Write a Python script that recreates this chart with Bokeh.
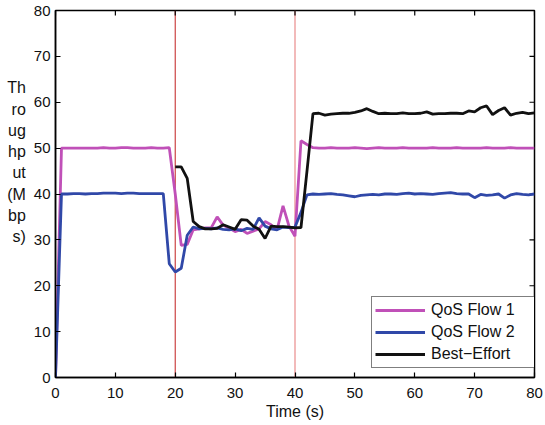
import math
from bokeh.plotting import figure
from bokeh.models import Span, Legend, LegendItem, FixedTicker, Range1d
from bokeh.embed import file_html
from bokeh.resources import INLINE

# ---------------- data ----------------
time_s = list(range(0, 81))
qos_flow_1 = ([0.0] +
    [50.0, 50.0, 50.0, 50.0, 50.0, 50.0, 50.0, 50.1, 50.0, 50.0, 50.1, 50.1, 50.0, 50.0, 50.0, 50.1, 50.0, 50.0] +
    [50.1, 40.0, 28.8, 29.0, 32.2, 32.4, 32.6, 32.6, 35.0, 33.2, 32.6, 31.8, 32.3, 31.4, 31.9, 32.4, 34.0, 33.3,
     32.2, 37.4, 33.0, 30.8, 51.6, 50.8] +
    [50.1, 50.0, 50.0, 50.1, 50.0, 50.0, 50.0, 50.1, 50.0, 49.9, 50.0, 50.1, 50.0, 50.0, 50.0, 50.1, 50.0, 50.0,
     50.0, 50.0, 50.1, 50.0, 50.0, 50.0, 50.1, 50.0, 50.0, 50.0, 50.0, 50.1, 50.0, 50.0, 50.0, 50.1, 50.0, 50.0,
     50.0, 50.0])
qos_flow_2 = ([0.0] +
    [40.0, 40.0, 40.1, 40.1, 40.0, 40.1, 40.1, 40.2, 40.2, 40.2, 40.1, 40.2, 40.2, 40.1, 40.1, 40.1, 40.1, 40.1] +
    [24.8, 23.0, 23.8, 31.0, 32.8, 32.4, 32.5, 32.4, 32.6, 32.3, 32.2, 32.4, 32.0, 32.5, 32.3, 34.8, 33.0, 32.4,
     32.2, 32.8, 32.7, 32.8, 36.0, 39.8] +
    [40.0, 39.9, 40.0, 40.1, 39.9, 39.8, 39.6, 39.4, 39.7, 39.8, 39.9, 39.8, 40.0, 40.0, 39.9, 40.1, 40.2, 40.0,
     40.1, 40.0, 39.9, 40.1, 40.2, 40.3, 40.1, 40.0, 40.0, 39.2, 39.9, 39.7, 39.8, 40.0, 39.1, 39.8, 40.1, 39.9,
     39.8, 40.0])
be_time_s = list(range(20, 81))
best_effort = ([45.9, 45.9, 43.4, 34.0, 32.9, 32.4, 32.4, 32.5, 33.3, 32.8, 32.3, 34.4, 34.3, 33.0, 32.3, 30.3,
                33.0, 32.9, 32.9, 32.8, 32.6, 32.7, 45.0] +
               [57.5, 57.6, 57.2, 57.4, 57.5, 57.6, 57.6, 57.8, 58.1, 58.6, 58.0, 57.5, 57.6, 57.5, 57.5, 57.7,
                57.5, 57.5, 57.6, 57.9, 57.4, 57.5, 57.5, 57.6, 57.6, 57.5, 58.1, 57.9, 58.8, 59.2, 57.3, 58.2,
                58.8, 57.2, 57.6, 57.8, 57.5, 57.7])
event_times = [20, 40]
event_colors = ["#cc4444", "#ea8c8c"]
x_ticks = [0, 10, 20, 30, 40, 50, 60, 70, 80]
y_ticks = [0, 10, 20, 30, 40, 50, 60, 70, 80]
y_label_chunks = ["Th", "ro", "ug", "hp", "ut", "(M", "bp", "s)"]
series_names = ["QoS Flow 1", "QoS Flow 2", "Best\u2212Effort"]
series_colors = ["#c050b8", "#3048a8", "#111111"]

assert len(qos_flow_1) == 81 and len(qos_flow_2) == 81 and len(best_effort) == 61

FONT = "Liberation Sans"

p = figure(width=545, height=425, output_backend="svg", toolbar_location=None,
           x_range=Range1d(0, 80), y_range=Range1d(0, 80),
           min_border_left=55, min_border_right=11, min_border_top=10, min_border_bottom=48)
p.background_fill_color = "white"
p.border_fill_color = "white"
p.grid.visible = False
p.outline_line_color = "black"
p.outline_line_width = 1.5


def style_axis(ax, ticks):
    ax.ticker = FixedTicker(ticks=ticks)
    ax.minor_tick_line_color = None
    ax.major_tick_in = 5
    ax.major_tick_out = 0
    ax.major_tick_line_width = 1.2
    ax.axis_line_width = 1.5
    ax.axis_line_color = "black"
    ax.major_tick_line_color = "black"
    ax.major_label_text_font = FONT
    ax.major_label_text_color = "#111111"
    ax.major_label_text_font_size = "15px"


style_axis(p.xaxis[0], x_ticks)
style_axis(p.yaxis[0], y_ticks)
p.xaxis.major_label_standoff = 10
p.yaxis.major_label_standoff = 5
p.xaxis.axis_label = "Time (s)"
p.xaxis.axis_label_text_font = FONT
p.xaxis.axis_label_text_font_size = "16px"
p.xaxis.axis_label_text_font_style = "normal"
p.xaxis.axis_label_text_color = "#111111"
p.xaxis.axis_label_standoff = 2

# y-axis label, wrapped two characters per line as in the original figure
p.yaxis.axis_label = "\n".join(y_label_chunks + [" ", " ", " "])
p.yaxis.axis_label_orientation = "horizontal"
p.yaxis.axis_label_text_font = FONT
p.yaxis.axis_label_text_font_size = "16px"
p.yaxis.axis_label_text_font_style = "normal"
p.yaxis.axis_label_text_color = "#111111"
p.yaxis.axis_label_text_line_height = 1.25
p.yaxis.axis_label_text_align = "left"
p.yaxis.axis_label_standoff = 5

# inward ticks on the top and right edges of the box
p.scatter(x_ticks, [p.y_range.end] * len(x_ticks), marker="dash", size=10, angle=math.pi / 2,
          line_color="black", line_width=1.2)
p.scatter([p.x_range.end] * len(y_ticks), y_ticks, marker="dash", size=10,
          line_color="black", line_width=1.2)

for t, c in zip(event_times, event_colors):
    p.add_layout(Span(location=t, dimension="height", line_color=c, line_width=1.2, level="underlay"))

r1 = p.line(time_s, qos_flow_1, line_color=series_colors[0], line_width=2.8)
r2 = p.line(time_s, qos_flow_2, line_color=series_colors[1], line_width=2.8)
r3 = p.line(be_time_s, best_effort, line_color=series_colors[2], line_width=2.8)

legend = Legend(items=[LegendItem(label=series_names[0], renderers=[r1]),
                       LegendItem(label=series_names[1], renderers=[r2]),
                       LegendItem(label=series_names[2], renderers=[r3])],
                location=(316, 9), margin=0, padding=3, spacing=2,
                glyph_width=50, glyph_height=20, label_height=20, label_width=100,
                label_standoff=6,
                label_text_font=FONT, label_text_font_size="16px", label_text_color="#111111",
                border_line_color="black", border_line_width=1.2,
                background_fill_color="white", background_fill_alpha=1.0)
p.add_layout(legend)

open("out.html", "w").write(file_html(p, INLINE))
